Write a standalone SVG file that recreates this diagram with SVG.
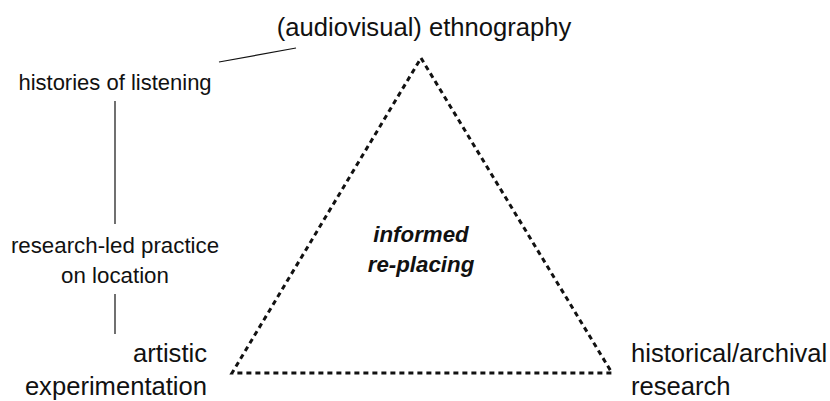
<svg xmlns="http://www.w3.org/2000/svg" width="830" height="401" viewBox="0 0 830 401">
<style>
.t{font-family:"Liberation Sans",Arial,sans-serif;fill:#111}
.big{font-size:25.6px}
.mid{font-size:22.3px}
.ln{stroke:#111;stroke-width:1.2;fill:none}
.dash{stroke:#111;stroke-width:3;fill:none;stroke-dasharray:5 4}
</style>
<rect width="830" height="401" fill="#fff"/>
<g id="connectors">
<line class="ln" x1="219" y1="62" x2="296" y2="48"/>
<line class="ln" x1="115" y1="101" x2="115" y2="224"/>
<line class="ln" x1="115" y1="294" x2="115" y2="334"/>
</g>
<g id="triangle">
<polygon class="dash" points="421,58 612,373 232,373"/>
</g>
<g id="ethnography"><text class="t big" x="424" y="36" text-anchor="middle">(audiovisual) ethnography</text></g>
<g id="histories"><text class="t mid" x="115" y="90" text-anchor="middle" style="font-size:22px">histories of listening</text></g>
<g id="research-led"><text class="t mid" x="115" y="253" text-anchor="middle">research-led practice</text><text class="t mid" x="115" y="283" text-anchor="middle">on location</text></g>
<g id="artistic"><text class="t big" x="207" y="362" text-anchor="end">artistic</text><text class="t big" x="207" y="395" text-anchor="end">experimentation</text></g>
<g id="historical"><text class="t big" x="631" y="362">historical/archival</text><text class="t big" x="631" y="395">research</text></g>
<g id="center"><text class="t mid" x="421" y="242" text-anchor="middle" font-weight="bold" font-style="italic">informed</text><text class="t mid" x="421" y="272" text-anchor="middle" font-weight="bold" font-style="italic">re-placing</text></g>
</svg>
